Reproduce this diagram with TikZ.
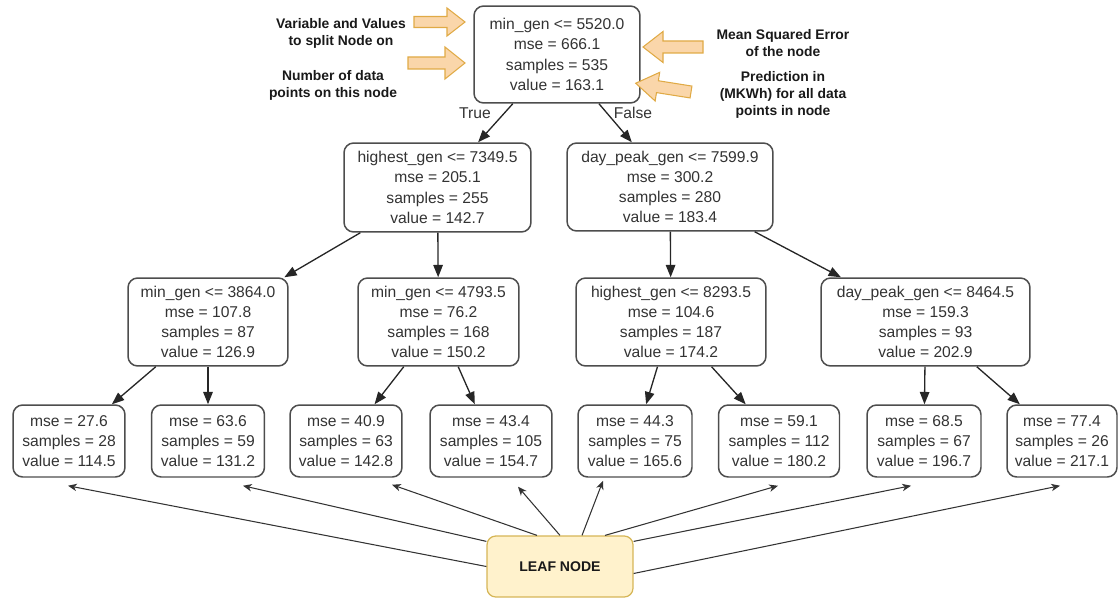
\documentclass[tikz,border=0pt]{standalone}
\usepackage{fontspec}
\setmainfont{Liberation Sans}
\usetikzlibrary{arrows.meta,calc}
\definecolor{txt}{HTML}{333333}
\definecolor{boxc}{HTML}{4D4D4D}
\definecolor{leaffill}{HTML}{FFF2CC}
\definecolor{leafdraw}{HTML}{D6B656}
\definecolor{orfill}{HTML}{FAD6AA}
\definecolor{ordraw}{HTML}{E0AA45}
\newcommand\blockarr[4]{\draw[orarrow] (0,-#3) -- (#2,-#3) -- (#2,-#4) -- (#1,0) -- (#2,#4) -- (#2,#3) -- (0,#3) -- cycle;}
\begin{document}
\begin{tikzpicture}[x=0.02cm,y=-0.02cm,
  tbox/.style={draw=boxc, line width=0.85pt, rounded corners=5.5pt, inner sep=0pt, align=center, text=txt, font=\fontsize{8.9}{11.5}\selectfont},
  leafbox/.style={tbox, minimum height=1.44cm},
  tedge/.style={draw=black!85, line width=0.75pt, -{Triangle[length=7pt,width=5.4pt]}},
  leafarrow/.style={draw=black!80, line width=0.6pt, -{Stealth[length=5pt,width=4.2pt,inset=1.5pt]}},
  lbl/.style={text=txt, font=\fontsize{8.9}{11.5}\selectfont, inner sep=0pt},
  note/.style={align=center, text=black!90, font=\bfseries\fontsize{7.9}{9.6}\selectfont, inner sep=0pt},
  orarrow/.style={fill=orfill, draw=ordraw, line width=0.6pt, line join=miter}
]
\useasboundingbox (0,0) rectangle (1119,598);

% tree nodes
\node[tbox, minimum width=3.32cm, minimum height=1.94cm] (root) at (557,54.5)
  {min\_gen <= 5520.0\\mse = 666.1\\samples = 535\\value = 163.1};
\node[tbox, minimum width=3.74cm, minimum height=1.78cm] (n1) at (437.5,187.5)
  {highest\_gen <= 7349.5\\mse = 205.1\\samples = 255\\value = 142.7};
\node[tbox, minimum width=4.12cm, minimum height=1.76cm] (n2) at (670,187)
  {day\_peak\_gen <= 7599.9\\mse = 300.2\\samples = 280\\value = 183.4};
\node[tbox, minimum width=3.2cm, minimum height=1.76cm] (n3) at (208,322)
  {min\_gen <= 3864.0\\mse = 107.8\\samples = 87\\value = 126.9};
\node[tbox, minimum width=3.22cm, minimum height=1.76cm] (n4) at (438.5,322)
  {min\_gen <= 4793.5\\mse = 76.2\\samples = 168\\value = 150.2};
\node[tbox, minimum width=3.8cm, minimum height=1.76cm] (n5) at (671,322)
  {highest\_gen <= 8293.5\\mse = 104.6\\samples = 187\\value = 174.2};
\node[tbox, minimum width=4.18cm, minimum height=1.76cm] (n6) at (925.5,322)
  {day\_peak\_gen <= 8464.5\\mse = 159.3\\samples = 93\\value = 202.9};

% leaves
\node[leafbox, minimum width=2.24cm] (L1) at (69,441) {mse = 27.6\\samples = 28\\value = 114.5};
\node[leafbox, minimum width=2.26cm] (L2) at (208,441) {mse = 63.6\\samples = 59\\value = 131.2};
\node[leafbox, minimum width=2.24cm] (L3) at (346,441) {mse = 40.9\\samples = 63\\value = 142.8};
\node[leafbox, minimum width=2.44cm] (L4) at (491,441) {mse = 43.4\\samples = 105\\value = 154.7};
\node[leafbox, minimum width=2.28cm] (L5) at (635,441) {mse = 44.3\\samples = 75\\value = 165.6};
\node[leafbox, minimum width=2.42cm] (L6) at (779,441) {mse = 59.1\\samples = 112\\value = 180.2};
\node[leafbox, minimum width=2.28cm] (L7) at (924,441) {mse = 68.5\\samples = 67\\value = 196.7};
\node[leafbox, minimum width=2.2cm] (L8) at (1062,441) {mse = 77.4\\samples = 26\\value = 217.1};

% tree edges
\draw[tedge] (root) -- (n1);
\draw[tedge] (root) -- (n2);
\draw[tedge] (n1) -- (n3);
\draw[tedge] (n1) -- (n4);
\draw[tedge] (n2) -- (n5);
\draw[tedge] (n2) -- (n6);
\draw[tedge] (n3) -- (L1);
\draw[tedge] (n3) -- (L2);
\draw[tedge] (n4) -- (L3);
\draw[tedge] (n4) -- (L4);
\draw[tedge] (n5) -- (L5);
\draw[tedge] (n5) -- (L6);
\draw[tedge] (n6) -- (L7);
\draw[tedge] (n6) -- (L8);

\node[lbl] (ltrue) at (475,113) {True};
\node[lbl] (lfalse) at (633,113) {False};

% leaf node callout
\node[draw=leafdraw, fill=leaffill, line width=0.7pt, rounded corners=5pt,
  minimum width=2.92cm, minimum height=1.22cm, inner sep=0pt,
  font=\bfseries\fontsize{8}{9.6}\selectfont, text=black!90] (LN) at (560,566.5) {LEAF NODE};

\coordinate (t1) at ($(L1.south)+(-1,8)$);
\coordinate (t2) at ($(L2.south)+(35,8)$);
\coordinate (t3) at ($(L3.south)+(46,7)$);
\coordinate (t4) at ($(L4.south)+(27,9)$);
\coordinate (t5) at ($(L5.south)+(-32,3)$);
\coordinate (t6) at ($(L6.south)+(-1,8)$);
\coordinate (t7) at ($(L7.south)+(-13,8)$);
\coordinate (t8) at ($(L8.south)+(-2,8)$);

\draw[leafarrow] (LN.west) -- (t1);
\draw[leafarrow] ($(LN.north west)+(0,6)$) -- (t2);
\draw[leafarrow] ($(LN.north)+(-23,0)$) -- (t3);
\draw[leafarrow] (LN.north) -- (t4);
\draw[leafarrow] ($(LN.north)+(22,0)$) -- (t5);
\draw[leafarrow] ($(LN.north)+(45,0)$) -- (t6);
\draw[leafarrow] ($(LN.north east)+(0,6)$) -- (t7);
\draw[leafarrow] ($(LN.east)+(0,7)$) -- (t8);

% annotations
\node[note] (a1) at (341,33) {Variable and Values\\to split Node on};
\node[note] (a2) at (333,85) {Number of data\\points on this node};
\node[note] (a3) at (783,43) {Mean Squared Error\\of the node};
\node[note] (a4) at (783,95) {Prediction in\\(MKWh) for all data\\points in node};

% orange block arrows
\begin{scope}[shift={(414,22)}]\blockarr{51}{33}{5.5}{14}\end{scope}
\begin{scope}[shift={(408,63)}]\blockarr{57}{37}{6}{16}\end{scope}
\begin{scope}[shift={(703,47)},rotate=180]\blockarr{60}{40}{6}{15.5}\end{scope}
\begin{scope}[shift={(691,92)},rotate=171]\blockarr{56}{34}{6}{14.5}\end{scope}
\end{tikzpicture}
\end{document}
